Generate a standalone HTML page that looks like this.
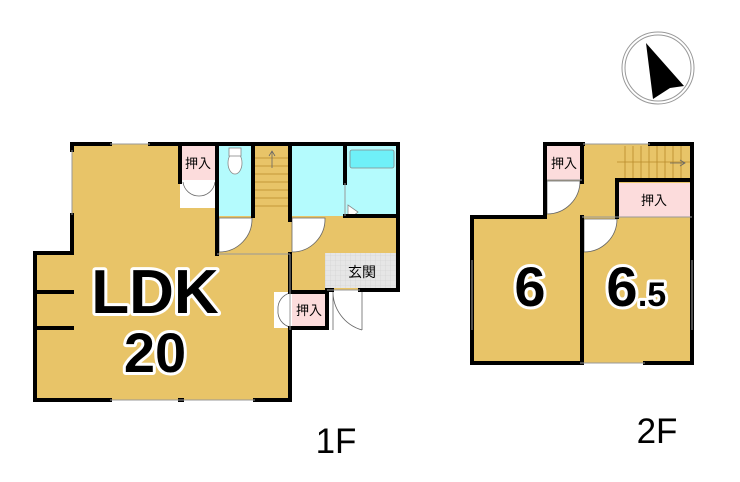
<!DOCTYPE html>
<html><head><meta charset="utf-8"><style>
html,body{margin:0;padding:0;background:#fff;}
svg{display:block;}
.j{font-family:"Liberation Sans","Noto Sans CJK JP",sans-serif;}
.big{font-family:"Liberation Sans",sans-serif;font-weight:bold;fill:#000;stroke:#fff;stroke-width:6;paint-order:stroke;stroke-linejoin:round;}
</style></head><body>
<svg width="740" height="482" viewBox="0 0 740 482" xmlns="http://www.w3.org/2000/svg">
<defs>
<pattern id="g" width="5" height="5" patternUnits="userSpaceOnUse"><rect width="5" height="5" fill="#e6e6e6"/><path d="M0 0H5M0 0V5" stroke="#cfcfcf" stroke-width="0.6"/></pattern>
</defs>
<circle cx="658" cy="68" r="36" fill="none" stroke="#999" stroke-width="1"/>
<circle cx="658" cy="68" r="33" fill="none" stroke="#999" stroke-width="1"/>
<polygon points="646,43 684,86 670,88 653,99" fill="#000"/>

<path d="M72 144 H217 V254 H290 V400 H35 V253 H72 Z" fill="#e8c468"/>
<rect x="180" y="144" width="37" height="38" fill="#fcdcdc"/>
<rect x="180" y="180" width="37" height="28" fill="#fff"/>
<rect x="217" y="144" width="36" height="72" fill="#b4fbfd"/>
<rect x="253" y="144" width="37" height="72" fill="#e8c468"/>
<g stroke="#b88a2a" stroke-width="0.8">
<path d="M255 158H290M255 166H290M255 174H290M255 182H290M255 190H290M255 198H290M255 206H290"/>
</g>
<path d="M272 168V152M269 156L272 151L275 156" stroke="#666" fill="none" stroke-width="0.8"/>
<rect x="290" y="144" width="55" height="72" fill="#b4fbfd"/>
<rect x="345" y="144" width="53" height="72" fill="#b4fbfd"/>
<rect x="350" y="150" width="44" height="18" rx="2" fill="#6ff0f8" stroke="#888" stroke-width="0.8"/>
<ellipse cx="235" cy="163" rx="7" ry="11" fill="#fff" stroke="#888" stroke-width="0.8"/>
<rect x="229" y="148" width="12" height="8" fill="#fff" stroke="#888" stroke-width="0.8"/>
<polygon points="348,205 348,220 358,212" fill="#fff" stroke="#888" stroke-width="0.8"/>
<rect x="217" y="216" width="73" height="38" fill="#e8c468"/>
<path d="M219 218 H252 A33 33 0 0 1 219 252 Z" fill="#fff" stroke="#666" stroke-width="0.8"/>
<rect x="290" y="216" width="108" height="74" fill="#e8c468"/>
<path d="M292 218 H325 A33 33 0 0 1 292 252 Z" fill="#fff" stroke="#666" stroke-width="0.8"/>
<rect x="325" y="253" width="72" height="35" fill="url(#g)"/>
<text x="362" y="277" class="j" font-size="14" text-anchor="middle">玄関</text>
<rect x="292" y="292" width="35" height="36" fill="#fcdcdc"/>
<path d="M274 292 V328 H290 V292 Z" fill="#fff"/>
<path d="M290 293 A16 16 0 0 0 278 310 M290 327 A16 16 0 0 1 278 310" stroke="#666" fill="none" stroke-width="0.8"/>
<path d="M183 182 A16 16 0 0 0 199 196 M215 182 A16 16 0 0 1 199 196" stroke="#666" fill="none" stroke-width="0.8"/>
<path d="M333 290 V332 A30 30 0 0 1 305 290" fill="none" stroke="#fff" stroke-width="0"/>
<path d="M333 290 V330 M362 290 V330 M333 290 A40 40 0 0 0 362 330" fill="none" stroke="#666" stroke-width="0.8"/>
<text x="198" y="168" class="j" font-size="13" text-anchor="middle">押入</text>
<text x="309" y="315" class="j" font-size="13" text-anchor="middle">押入</text>

<g stroke="#000" stroke-width="4" fill="none" stroke-linecap="square">
<path d="M72 144 H110 M150 144 H217 M217 144 H398 V290 H360 M332 290 H327 M290 290 V254"/>
<path d="M72 144 V150 M72 215 V253 H35 V400 H110 M180 400 H182 M255 400 H290 V330"/>
<path d="M180 144 V182 M217 144 V254 M253 144 V216 M290 144 V216 M345 144 V183 M290 216 V220 M345 216 H398"/>
<path d="M35 292 H72 M35 328 H72"/>
<path d="M290 292 H327 V328 H290"/>
</g>
<g stroke="#999" stroke-width="1" fill="none">
<path d="M110 144 H150 M72 150 V215 M110 400 H255 M290 330 V254 M217 254 H290 M327 290 H360 M345 183 V216"/>
</g>

<path d="M545 144 H692 V363 H472 V217 H545 Z" fill="#e8c468"/>
<rect x="547" y="146" width="35" height="34" fill="#fcdcdc"/>
<path d="M547 181 H580 A33 33 0 0 1 547 214 Z" fill="#fff" stroke="#666" stroke-width="0.8"/>
<g stroke="#b88a2a" stroke-width="0.8"><path d="M625 146V180M633 146V180M641 146V180M649 146V180M657 146V180M665 146V180M673 146V180M681 146V180M617 162H690"/></g>
<path d="M670 163H684M680 160L685 163L680 166" stroke="#666" fill="none" stroke-width="0.8"/>
<rect x="618" y="183" width="72" height="34" fill="#fcdcdc"/>
<path d="M584 219 H617 A33 33 0 0 1 584 252 Z" fill="#fff" stroke="#666" stroke-width="0.8"/>
<text x="564" y="168" class="j" font-size="13" text-anchor="middle">押入</text>
<text x="654" y="205" class="j" font-size="13" text-anchor="middle">押入</text>
<g stroke="#000" stroke-width="4" fill="none" stroke-linecap="square">
<path d="M545 144 H583 M650 144 H692 V363 H645 M580 363 H472 V217 H545 V144"/>
<path d="M582 146 V182 M582 217 V363 M617 180 H692 M617 180 V217"/>
</g>
<g stroke="#999" stroke-width="1" fill="none">
<path d="M583 144 H650 M645 363 H580 M582 217 H692 M472 260 V330 M692 260 V330 M547 180 H582"/>
</g>

<text x="155" y="313" class="big" font-size="62" text-anchor="middle">LDK</text>
<text x="155" y="372" class="big" font-size="56" text-anchor="middle">20</text>
<text x="530" y="306" class="big" font-size="56" text-anchor="middle">6</text>
<text x="622" y="306" class="big" font-size="56" text-anchor="middle">6</text>
<text x="652" y="306" class="big" font-size="34" text-anchor="middle">.5</text>
<text x="336" y="453" font-family="Liberation Sans,sans-serif" font-size="35" text-anchor="middle">1F</text>
<text x="657" y="443" font-family="Liberation Sans,sans-serif" font-size="35" text-anchor="middle">2F</text>
</svg>
</body></html>
